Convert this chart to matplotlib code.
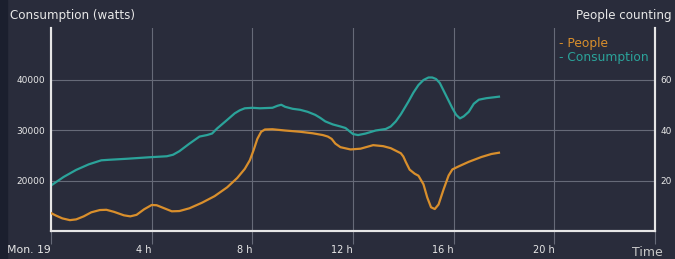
import matplotlib
matplotlib.use("Agg")
import matplotlib.pyplot as plt
from matplotlib.patches import Rectangle

# consumption (watts)
cons_hours = [0.0, 0.5, 1.0, 1.5, 2.0, 2.3, 3.0, 3.9, 4.6, 4.85, 5.1, 5.5, 5.9, 6.2,
              6.4, 6.6, 7.0, 7.3, 7.5, 7.7, 8.0, 8.3, 8.8, 9.0, 9.15, 9.3, 9.6,
              9.9, 10.2, 10.5, 10.7, 10.9, 11.2, 11.5, 11.7, 11.85, 12.0, 12.2,
              12.5, 12.9, 13.3, 13.5, 13.7, 13.9, 14.2, 14.4, 14.6, 14.8, 15.0,
              15.15, 15.3, 15.45, 15.6, 15.8, 15.95, 16.1, 16.25, 16.4, 16.6,
              16.8, 17.0, 17.3, 17.8]
cons_watts = [19000, 20700, 22100, 23200, 24000, 24100, 24300, 24600, 24800, 25100,
              25800, 27300, 28700, 29000, 29300, 30300, 32000, 33300, 33900, 34300,
              34400, 34300, 34400, 34800, 35000, 34600, 34200, 34000, 33600, 33000,
              32400, 31700, 31100, 30700, 30400, 29800, 29200, 29000, 29300, 29900,
              30200, 30700, 31700, 33100, 35600, 37400, 38900, 39900, 40400, 40400,
              40100, 39300, 37800, 35800, 34300, 33000, 32300, 32700, 33600, 35200,
              36000, 36300, 36600]

# people counting
ppl_hours = [0.0, 0.2, 0.45, 0.75, 1.0, 1.3, 1.6, 1.94, 2.2, 2.5, 2.9, 3.15, 3.4,
             3.7, 4.0, 4.2, 4.5, 4.8, 5.1, 5.5, 6.0, 6.5, 7.0, 7.4, 7.7, 7.9, 8.05,
             8.2, 8.35, 8.5, 8.8, 9.3, 9.9, 10.4, 10.8, 11.0, 11.15, 11.3, 11.5,
             11.9, 12.3, 12.8, 13.2, 13.5, 13.7, 13.9, 14.0, 14.1, 14.25, 14.45,
             14.6, 14.8, 14.95, 15.1, 15.25, 15.4, 15.6, 15.8, 15.95, 16.2, 16.6,
             17.1, 17.5, 17.8]
ppl_count = [7.1, 6.1, 5.0, 4.3, 4.6, 5.8, 7.4, 8.3, 8.4, 7.6, 6.2, 5.8, 6.4,
             8.6, 10.3, 10.2, 9.0, 7.8, 7.9, 9.0, 11.2, 13.8, 17.3, 21.0, 24.6,
             28.0, 32.0, 36.5, 39.3, 40.2, 40.3, 39.8, 39.3, 38.7, 38.0, 37.4,
             36.5, 34.6, 33.2, 32.3, 32.6, 34.0, 33.6, 32.8, 31.8, 30.8, 29.5,
             27.3, 24.3, 22.7, 21.9, 18.5, 13.3, 9.4, 8.7, 10.5, 16.5, 22.0,
             24.4, 25.6, 27.4, 29.3, 30.5, 31.0]

x_ticks = [0, 4, 8, 12, 16, 20, 24]
x_labels = ["Mon. 19", "4 h", "8 h", "12 h", "16 h", "20 h", ""]
left_ticks = [20000, 30000, 40000]
right_ticks = [20, 40, 60]

bg = "#292c3b"
teal = "#2ba39a"
orange = "#d98f2c"
axis_white = "#e6e6e6"
grid_gray = "#666a78"
text_col = "#e8e8e8"

fig = plt.figure(figsize=(6.75, 2.59), dpi=100, facecolor=bg)
fig.patches.append(Rectangle((0, 0), 7 / 675, 1, transform=fig.transFigure,
                             color="#1b1f2e", zorder=0))

ax = fig.add_axes([51 / 675, 28 / 259, 604 / 675, 203 / 259])
ax.set_facecolor(bg)
ax2 = ax.twinx()

ax.plot(cons_hours, cons_watts, color=teal, lw=1.6, zorder=3)
ax2.plot(ppl_hours, ppl_count, color=orange, lw=1.6, zorder=3)

ax.set_xlim(0, 24)
ax.set_ylim(10000, 50200)
ax2.set_ylim(0, 80.4)

ax.set_xticks(x_ticks)
ax.set_xticklabels(x_labels, ha="right")
ax.set_yticks(left_ticks)
ax.set_yticklabels(["20000", "30000", "40000"])
ax2.set_yticks(right_ticks)
ax2.set_yticklabels([str(t) for t in right_ticks])

ax.grid(True, color=grid_gray, lw=0.8)
ax.tick_params(axis="x", length=9, width=0.8, color=grid_gray, colors=text_col,
               labelsize=7, pad=1, direction="out")
ax.tick_params(axis="y", length=0, colors=text_col, labelsize=6.5, pad=4)
ax2.tick_params(axis="y", length=0, colors=text_col, labelsize=6.5, pad=4)
for lab in ax.get_xticklabels():
    lab.set_color(text_col)
ax.get_xticklabels()[0].set_fontsize(7.8)

for a in (ax, ax2):
    a.spines["top"].set_visible(False)
    for s in ("left", "bottom", "right"):
        a.spines[s].set_color(axis_white)
        a.spines[s].set_linewidth(1.5)

fig.text(10 / 675, 1 - 15 / 259, "Consumption (watts)", color=text_col,
         fontsize=8.6, va="center", ha="left")
fig.text(672 / 675, 1 - 15 / 259, "People counting", color=text_col,
         fontsize=8.6, va="center", ha="right")
fig.text(559 / 675, 1 - 43 / 259, "- People", color=orange, fontsize=8.8,
         va="center", ha="left")
fig.text(559 / 675, 1 - 57 / 259, "- Consumption", color=teal, fontsize=8.8,
         va="center", ha="left")
fig.text(663 / 675, 1 - 252 / 259, "Time", color="#c8c8c8", fontsize=9,
         va="center", ha="right")

fig.savefig("out.png", dpi=100, facecolor=bg)
